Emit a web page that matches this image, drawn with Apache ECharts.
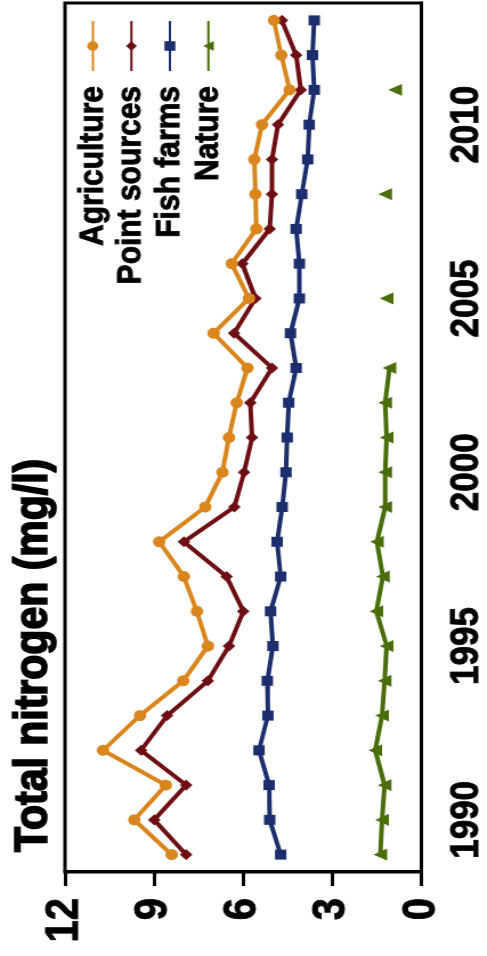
<!DOCTYPE html>
<html>
<head>
<meta charset="utf-8">
<script src="https://cdn.jsdelivr.net/npm/echarts@6/dist/echarts.min.js"></script>
<style>
html,body{margin:0;padding:0;background:#fff;overflow:hidden;width:487px;height:956px;}
#chart{position:absolute;left:0;top:0;width:956px;height:427px;transform-origin:0 0;
transform:translate(0,956px) rotate(-90deg) scale(1,1.1405);}
</style>
</head>
<body>
<div id="chart"></div>
<script>
const years = ['1989','1990','1991','1992','1993','1994','1995','1996','1997','1998','1999','2000','2001','2002','2003','2004','2005','2006','2007','2008','2009','2010','2011','2012','2013'];
const agriculture = [8.41,9.67,8.61,10.72,9.48,8.02,7.19,7.56,8.0,8.83,7.28,6.7,6.48,6.22,5.86,7.0,5.81,6.39,5.56,5.59,5.63,5.37,4.44,4.72,4.97];
const pointSources = [7.92,9.0,7.92,9.44,8.56,7.19,6.48,6.0,6.56,8.0,6.3,5.97,5.7,5.76,5.03,6.31,5.59,6.03,5.11,5.03,5.03,4.83,4.06,4.22,4.7];
const fishFarms = [4.74,5.11,5.13,5.47,5.17,5.19,5.0,5.08,4.74,4.86,4.69,4.56,4.52,4.47,4.22,4.41,4.11,4.11,4.22,4.03,3.83,3.78,3.61,3.67,3.61];
const nature = [1.39,1.33,1.24,1.56,1.33,1.24,1.17,1.52,1.3,1.5,1.22,1.22,1.17,1.22,1.08,null,1.17,null,null,1.22,null,null,0.89,null,null];
const valueTicks = [0,3,6,9,12];
const seriesNames = ['Agriculture','Point sources','Fish farms','Nature'];
const colors = ['#D9861F','#6E0F14','#1C2E6E','#4A6E0A'];
const symbols = ['circle','diamond','rect','triangle'];
const symbolSizes = [11,11,10,12];

const FONT = '"Liberation Sans", Arial, Helvetica, sans-serif';
const chart = echarts.init(document.getElementById('chart'), null, {renderer:'canvas'});
const dataSets = [agriculture, pointSources, fishFarms, nature];

chart.setOption({
  animation:false,
  backgroundColor:'#fff',
  title:{
    text:'Total nitrogen (mg/l)', left:104, top:9, padding:0,
    textStyle:{fontFamily:FONT,fontSize:41,fontWeight:'bold',color:'#000',textBorderColor:'#000',textBorderWidth:1.6}
  },
  legend:{
    data:seriesNames, orient:'vertical', align:'right', right:20, top:66, padding:0,
    itemWidth:50, itemHeight:12, itemGap:3,
    textStyle:{fontFamily:FONT,fontSize:30,fontWeight:'bold',color:'#000',lineHeight:30,padding:[0,10,0,0],textBorderColor:'#000',textBorderWidth:0.8}
  },
  grid:{left:84,right:3,top:57,bottom:54,show:true,borderColor:'#000',borderWidth:3,containLabel:false},
  xAxis:{
    type:'category', data:years, boundaryGap:true,
    axisLine:{lineStyle:{color:'#000',width:3}},
    axisTick:{alignWithLabel:true,interval:0,length:15,lineStyle:{color:'#000',width:3}},
    axisLabel:{interval:function(i,v){return (+v)%5===0;},margin:22,fontFamily:FONT,fontSize:35,fontWeight:'bold',color:'#000',textBorderColor:'#000',textBorderWidth:0.8},
    splitLine:{show:false}
  },
  yAxis:{
    type:'value', min:valueTicks[0], max:valueTicks[valueTicks.length-1], interval:3,
    axisLine:{show:true,lineStyle:{color:'#000',width:3}},
    axisTick:{show:true,length:14,lineStyle:{color:'#000',width:3}},
    axisLabel:{margin:26,fontFamily:FONT,fontSize:40,fontWeight:'bold',color:'#000',textBorderColor:'#000',textBorderWidth:0.8},
    splitLine:{show:false}
  },
  series: seriesNames.map((n,i)=>({
    name:n, type:'line', data:dataSets[i], connectNulls:false,
    symbol:symbols[i], symbolSize:symbolSizes[i], showSymbol:true, showAllSymbol:true,
    lineStyle:{color:colors[i],width:4}, itemStyle:{color:colors[i]},
    z: 10-i
  }))
});
</script>
</body>
</html>
